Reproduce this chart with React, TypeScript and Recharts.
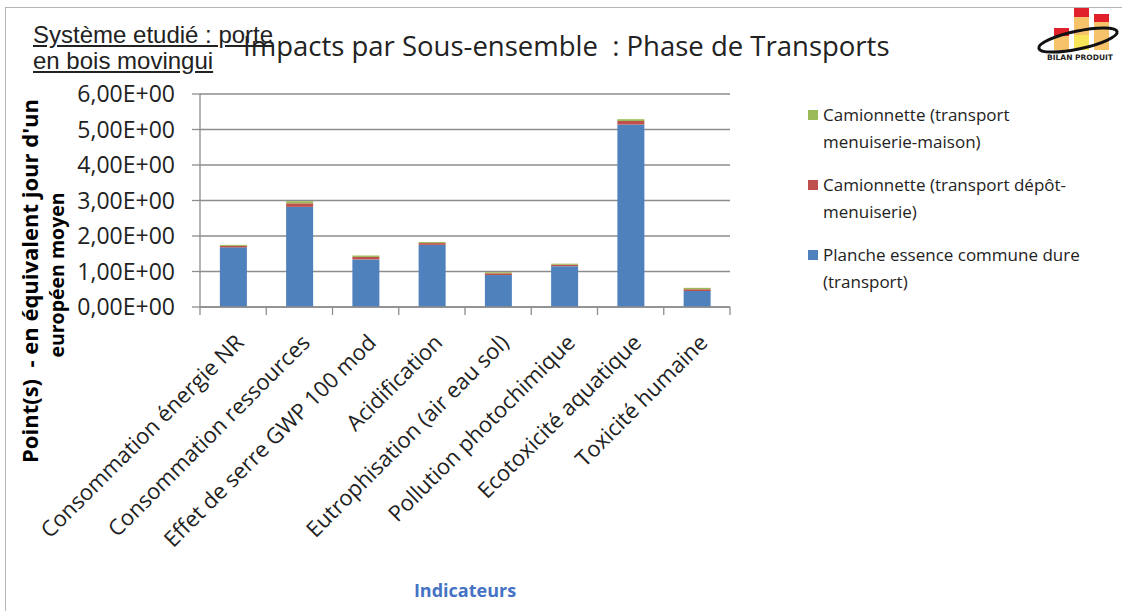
import React from "react";
import { Bar, BarChart, CartesianGrid, Label, Legend, XAxis, YAxis } from "recharts";

const indicateurs = [
  "Consommation énergie NR",
  "Consommation ressources",
  "Effet de serre GWP 100 mod",
  "Acidification",
  "Eutrophisation (air eau sol)",
  "Pollution photochimique",
  "Ecotoxicité aquatique",
  "Toxicité humaine",
];

// points, en équivalent jour d'un européen moyen
const planche = [1.68, 2.82, 1.34, 1.75, 0.9, 1.15, 5.14, 0.45];
const depotMenuiserie = [0.04, 0.1, 0.07, 0.05, 0.05, 0.04, 0.1, 0.05];
const menuiserieMaison = [0.03, 0.06, 0.04, 0.03, 0.03, 0.03, 0.05, 0.04];

const yTicks = [0, 1, 2, 3, 4, 5, 6];

const series = [
  {
    key: "planche",
    name: "Planche essence commune dure (transport)",
    lines: ["Planche essence commune dure", "(transport)"],
    color: "#4F81BD",
  },
  {
    key: "depot",
    name: "Camionnette (transport dépôt-menuiserie)",
    lines: ["Camionnette (transport dépôt-", "menuiserie)"],
    color: "#C0504D",
  },
  {
    key: "maison",
    name: "Camionnette (transport menuiserie-maison)",
    lines: ["Camionnette (transport", "menuiserie-maison)"],
    color: "#9BBB59",
  },
];

const data = indicateurs.map((nom, i) => ({
  nom,
  planche: planche[i],
  depot: depotMenuiserie[i],
  maison: menuiserieMaison[i],
}));

const GRID = "#8D8D8D";
const FONT = "'Open Sans', Lato, sans-serif";

const formatSci = (v: number) => `${v.toFixed(2).replace(".", ",")}E+00`;

// category label, rotated, plus the tick marks that sit between categories
const XTick = ({ x, y, payload }: any) => {
  const half = payload.offset || 33;
  const ax = x + 12;
  const ay = y + 37;
  const last = payload.index === indicateurs.length - 1;
  return (
    <g>
      <line x1={x - half} x2={x - half} y1={y} y2={y + 8} stroke={GRID} strokeWidth={1.3} />
      {last && <line x1={x + half} x2={x + half} y1={y} y2={y + 8} stroke={GRID} strokeWidth={1.3} />}
      <text
        x={ax}
        y={ay}
        textAnchor="end"
        transform={`rotate(-45 ${ax} ${ay})`}
        fontFamily={FONT}
        fontSize={22}
        fill="#222"
      >
        {payload.value}
      </text>
    </g>
  );
};

const YTitle = () => (
  <g fontFamily={FONT} fontWeight="bold" fill="#000">
    <text
      transform="translate(38 281) rotate(-90)"
      textAnchor="middle"
      fontSize={22}
      style={{ whiteSpace: "pre" }}
    >
      {"Point(s)  - en équivalent jour d'un"}
    </text>
    <text transform="translate(64 275) rotate(-90)" textAnchor="middle" fontSize={19.5}>
      européen moyen
    </text>
  </g>
);

const LegendBox = () => (
  <div style={{ fontFamily: FONT, fontSize: 17, color: "#222", lineHeight: "27px" }}>
    {[...series].reverse().map((s) => (
      <div key={s.key} style={{ position: "relative", paddingLeft: 15, marginBottom: 16 }}>
        <span
          style={{
            position: "absolute",
            left: 0,
            top: 9,
            width: 10,
            height: 10,
            background: s.color,
          }}
        />
        {s.lines.map((l) => (
          <div key={l} style={{ whiteSpace: "nowrap" }}>
            {l}
          </div>
        ))}
      </div>
    ))}
  </div>
);

const Logo = () => (
  <svg width={92} height={66} style={{ position: "absolute", left: 1032, top: 0 }}>
    <rect x={22} y={28} width={15} height={8} fill="#E0202A" />
    <rect x={22} y={36} width={15} height={14} fill="#F6C36A" />
    <rect x={42} y={8} width={15} height={9} fill="#E0202A" />
    <rect x={42} y={17} width={15} height={18} fill="#F6C36A" />
    <rect x={42} y={35} width={15} height={15} fill="#F8E65A" />
    <rect x={62} y={14} width={15} height={8} fill="#E0202A" />
    <rect x={62} y={22} width={15} height={28} fill="#F6C36A" />
    <ellipse
      cx={46}
      cy={40}
      rx={40}
      ry={9}
      fill="none"
      stroke="#111"
      strokeWidth={3}
      transform="rotate(-12 46 40)"
    />
    <text
      x={48}
      y={60}
      textAnchor="middle"
      fontFamily="'DejaVu Sans', sans-serif"
      fontWeight="bold"
      fontSize={7.5}
      fill="#222"
    >
      BILAN PRODUIT
    </text>
  </svg>
);

export default function App() {
  return (
    <div
      style={{
        position: "absolute",
        left: 0,
        top: 0,
        width: 1122,
        height: 611,
        background: "#fff",
        overflow: "hidden",
      }}
    >
      <div
        style={{
          position: "absolute",
          left: 5,
          top: 7,
          width: 1200,
          height: 700,
          borderLeft: "1px solid #B5B5B5",
          borderTop: "1px solid #B5B5B5",
        }}
      />
      <div
        style={{
          position: "absolute",
          left: 33,
          top: 22,
          fontFamily: "'Liberation Sans', Arial, sans-serif",
          fontSize: 24,
          lineHeight: "26px",
          color: "#222",
          textDecoration: "underline",
        }}
      >
        Système etudié : porte
        <br />
        en bois movingui
      </div>
      <div
        style={{
          position: "absolute",
          left: 243,
          top: 28,
          fontFamily: FONT,
          fontSize: 27.5,
          lineHeight: "36px",
          color: "#222",
          whiteSpace: "pre",
        }}
      >
        Impacts par Sous-ensemble  : Phase de Transports
      </div>
      <Logo />
      <div style={{ position: "absolute", left: 0, top: 0 }}>
        <BarChart
          width={1122}
          height={611}
          data={data}
          margin={{ top: 94, right: 392, bottom: 0, left: 0 }}
          barCategoryGap="30%"
        >
          <CartesianGrid vertical={false} stroke={GRID} strokeWidth={1.3} />
          <XAxis
            dataKey="nom"
            height={304}
            interval={0}
            tickSize={0}
            tickMargin={0}
            tickLine={false}
            axisLine={{ stroke: GRID, strokeWidth: 1.3 }}
            tick={<XTick />}
          >
            <Label
              value="Indicateurs"
              position="insideBottom"
              offset={14}
              fill="#4472C4"
              fontFamily={FONT}
              fontWeight="bold"
              fontSize={18}
            />
          </XAxis>
          <YAxis
            width={200}
            domain={[0, 6]}
            ticks={yTicks}
            tickFormatter={formatSci}
            tickSize={8}
            tickMargin={17}
            axisLine={{ stroke: GRID, strokeWidth: 1.3 }}
            tickLine={{ stroke: GRID, strokeWidth: 1.3 }}
            tick={{ fontFamily: FONT, fontSize: 23, fill: "#222" }}
          >
            <Label content={<YTitle />} />
          </YAxis>
          <Legend
            layout="vertical"
            align="center"
            verticalAlign="middle"
            content={<LegendBox />}
            wrapperStyle={{ position: "absolute", left: 808, top: 101, width: 310 }}
          />
          {series.map((s) => (
            <Bar
              key={s.key}
              dataKey={s.key}
              name={s.name}
              stackId="a"
              fill={s.color}
              isAnimationActive={false}
            />
          ))}
        </BarChart>
      </div>
    </div>
  );
}
